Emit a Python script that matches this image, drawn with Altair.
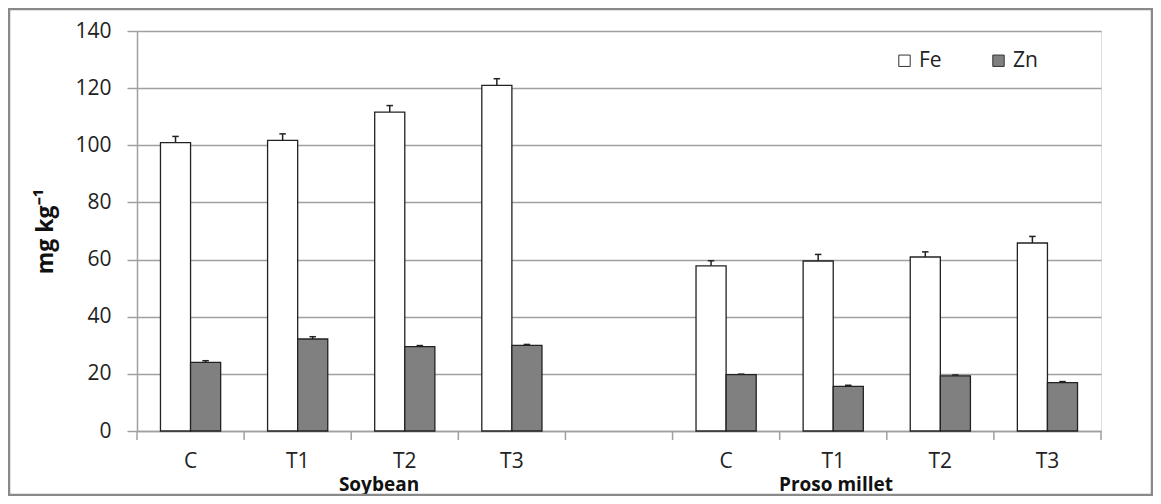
import altair as alt
import pandas as pd

crops = ["Soybean"] * 4 + ["Proso millet"] * 4
treatments = ["C", "T1", "T2", "T3"] * 2
fe = [100.9, 101.7, 111.6, 121.0, 57.8, 59.5, 60.9, 65.8]
fe_se = [2.2, 2.3, 2.3, 2.3, 1.8, 2.3, 1.8, 2.3]
zn = [24.0, 32.2, 29.5, 30.0, 19.7, 15.6, 19.3, 16.9]
zn_se = [0.6, 0.8, 0.4, 0.3, 0.2, 0.4, 0.3, 0.4]
nutrients = ["Fe", "Zn"]
group_labels = ["Soybean", "Proso millet"]
y_ticks = [0, 20, 40, 60, 80, 100, 120, 140]

rows = []
for i in range(8):
    slot = crops[i] + "|" + treatments[i]
    rows.append({"slot": slot, "nutrient": "Fe", "value": fe[i], "top": fe[i] + fe_se[i]})
    rows.append({"slot": slot, "nutrient": "Zn", "value": zn[i], "top": zn[i] + zn_se[i]})
df = pd.DataFrame(rows)

domain = [c + "|" + t for c, t in zip(crops[:4], treatments[:4])] + ["gap"] + \
         [c + "|" + t for c, t in zip(crops[4:], treatments[4:])]

FONT = "Open Sans"
GRAY = "#a0a0a0"
x_scale = alt.Scale(domain=domain, paddingInner=0, paddingOuter=0)

x_enc = alt.X(
    "slot:N",
    scale=x_scale,
    axis=alt.Axis(
        title=None,
        labelExpr="indexof(datum.value, '|') > 0 ? split(datum.value, '|')[1] : ''",
        ticks=False,
        domainColor=GRAY,
        domainWidth=1.5,
        labelAngle=0,
        labelFont=FONT,
        labelFontSize=21,
        labelColor="#222",
        labelPadding=19,
        grid=False,
    ),
)
xo_enc = alt.XOffset(
    "nutrient:N",
    scale=alt.Scale(domain=nutrients, paddingOuter=0.78, paddingInner=0),
)
y_scale = alt.Scale(domain=[0, 140], nice=False)

base = alt.Chart(df)

bars = base.mark_bar(stroke="#222", strokeWidth=1.3).encode(
    x=x_enc,
    xOffset=xo_enc,
    y=alt.Y(
        "value:Q",
        scale=y_scale,
        axis=alt.Axis(
            values=y_ticks,
            title="mg kg⁻¹",
            titleFont=FONT,
            titleFontSize=23,
            titleFontWeight="bold",
            titleColor="#111",
            titleX=-92,
            titleY=200,
            titleAlign="center",
            titleBaseline="middle",
            tickSize=10,
            tickColor=GRAY,
            tickWidth=1.5,
            domainColor=GRAY,
            domainWidth=1.5,
            gridColor=GRAY,
            gridWidth=1.5,
            labelFont=FONT,
            labelFontSize=21,
            labelColor="#222",
            labelPadding=16,
        ),
    ),
    color=alt.Color(
        "nutrient:N",
        scale=alt.Scale(domain=nutrients, range=["#ffffff", "#808080"]),
        legend=alt.Legend(
            title=None,
            orient="none",
            direction="horizontal",
            legendX=757,
            legendY=19,
            padding=0,
            symbolType="square",
            symbolSize=130,
            symbolStrokeColor="#333",
            symbolStrokeWidth=1,
            labelFont=FONT,
            labelFontSize=21,
            labelColor="#222",
            labelOffset=4,
            columnPadding=46,
        ),
    ),
)

err = base.mark_rule(color="#222", strokeWidth=1.5).encode(
    x=x_enc, xOffset=xo_enc, y=alt.Y("value:Q", scale=y_scale), y2="top:Q"
)
caps = base.mark_point(
    shape="M -0.5 0 L 0.5 0", size=169, filled=False, stroke="#222", strokeWidth=1.5, opacity=1
).encode(x=x_enc, xOffset=xo_enc, y=alt.Y("top:Q", scale=y_scale))

# category boundary ticks on the x axis
tick_df = pd.DataFrame({"slot": domain})
ticks_start = alt.Chart(tick_df).mark_rule(color=GRAY, strokeWidth=1.5).encode(
    x=alt.X("slot:N", scale=x_scale, bandPosition=0),
    y=alt.value(400), y2=alt.value(409),
)
ticks_end = alt.Chart(pd.DataFrame({"slot": [domain[-1]]})).mark_rule(
    color=GRAY, strokeWidth=1.5
).encode(
    x=alt.X("slot:N", scale=x_scale, bandPosition=1),
    y=alt.value(400), y2=alt.value(409),
)

g1 = alt.Chart(pd.DataFrame({"t": [group_labels[0]]})).mark_text(
    font=FONT, fontSize=19, fontWeight="bold", color="#111", baseline="alphabetic", align="center"
).encode(text="t:N", x=alt.value(242), y=alt.value(460))
g2 = alt.Chart(pd.DataFrame({"t": [group_labels[1]]})).mark_text(
    font=FONT, fontSize=19, fontWeight="bold", color="#111", baseline="alphabetic", align="center"
).encode(text="t:N", x=alt.value(699), y=alt.value(460))

frame = alt.Chart(pd.DataFrame({"k": [1]})).mark_rect(
    fillOpacity=0, stroke="#8a8a8a", strokeWidth=2.5
).encode(x=alt.value(-128), x2=alt.value(1015), y=alt.value(-22), y2=alt.value(464))

chart = alt.layer(bars, err, caps, ticks_start, ticks_end, g1, g2, frame).properties(
    width=964,
    height=400,
    autosize=alt.AutoSizeParams(type="none"),
    padding={"left": 129, "top": 23, "right": 52, "bottom": 65},
).configure_view(stroke=None).configure(background="white")

chart.save("out.html", embed_options={"renderer": "svg", "actions": False})
